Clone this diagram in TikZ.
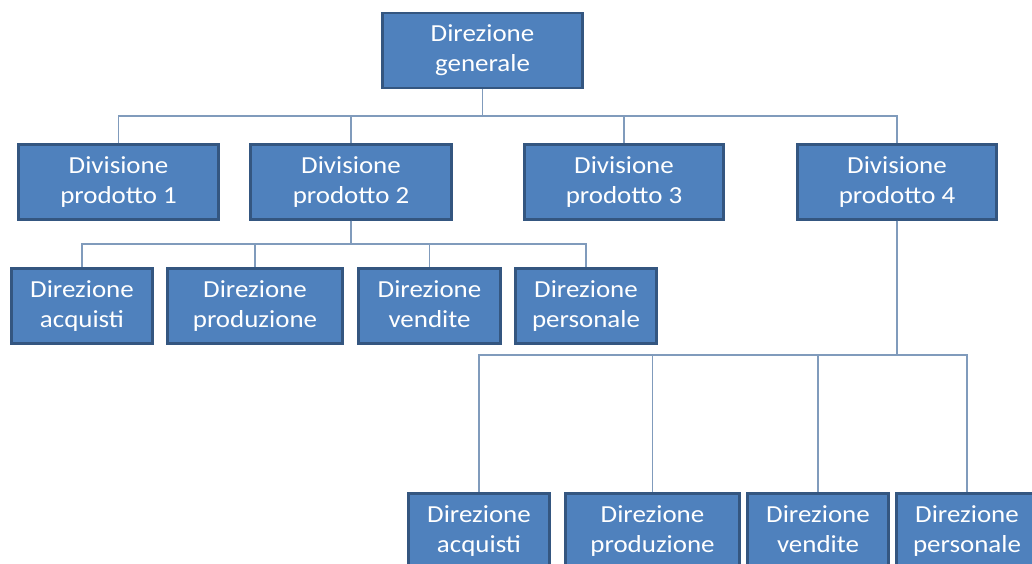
\documentclass[tikz,border=0pt]{standalone}
\usepackage{fontspec}
\setmainfont{Carlito}[FakeStretch=1.1]
\definecolor{boxfill}{RGB}{79,129,189}
\definecolor{boxline}{RGB}{52,86,128}
\definecolor{conn}{RGB}{128,155,188}
\newcommand\twolines[2]{\strut#1\\\strut#2}
\begin{document}
\begin{tikzpicture}[x=1pt,y=-1pt,
  org/.style={draw=boxline,line width=2.2pt,fill=boxfill,text=white,
    align=center,inner sep=0pt,minimum height=75pt,
    font=\fontsize{24.5}{30}\selectfont},
  conline/.style={draw=conn,line width=1.3pt}]
\useasboundingbox (0,0) rectangle (1032,563);
\clip (0,0) rectangle (1032,563);
% level 1
\node[org,minimum width=200pt] (dg) at (482.5,50.5) {\twolines{Direzione}{generale}};
% level 2
\node[org,minimum width=200pt] (d1) at (118.5,182) {\twolines{Divisione}{prodotto 1}};
\node[org,minimum width=201pt] (d2) at (351,182) {\twolines{Divisione}{prodotto 2}};
\node[org,minimum width=199pt] (d3) at (624,182) {\twolines{Divisione}{prodotto 3}};
\node[org,minimum width=199pt] (d4) at (897,182) {\twolines{Divisione}{prodotto 4}};
% level 3 under d2
\node[org,minimum width=141pt] (a1) at (82,306) {\twolines{Direzione}{acquisti}};
\node[org,minimum width=175pt] (p1) at (255,306) {\twolines{Direzione}{produzione}};
\node[org,minimum width=142pt] (v1) at (429.5,306) {\twolines{Direzione}{vendite}};
\node[org,minimum width=141pt] (s1) at (586,306) {\twolines{Direzione}{personale}};
% level 3 under d4
\node[org,minimum width=141pt] (a2) at (479,531) {\twolines{Direzione}{acquisti}};
\node[org,minimum width=174pt] (p2) at (652.5,531) {\twolines{Direzione}{produzione}};
\node[org,minimum width=141pt] (v2) at (818,531) {\twolines{Direzione}{vendite}};
\node[org,minimum width=141pt] (s2) at (967,531) {\twolines{Direzione}{personale}};
% bus coordinates
\coordinate (bus1) at (0,116);
\coordinate (bus2) at (0,244);
\coordinate (bus3) at (0,355);
% connectors
\foreach \c in {d1,d2,d3,d4}
  \draw[conline] (dg.south) -- (dg.south |- bus1) -| (\c.north);
\foreach \c in {a1,p1,v1,s1}
  \draw[conline] (d2.south) -- (d2.south |- bus2) -| (\c.north);
\foreach \c in {a2,p2,v2,s2}
  \draw[conline] (d4.south) -- (d4.south |- bus3) -| (\c.north);
\end{tikzpicture}
\end{document}
